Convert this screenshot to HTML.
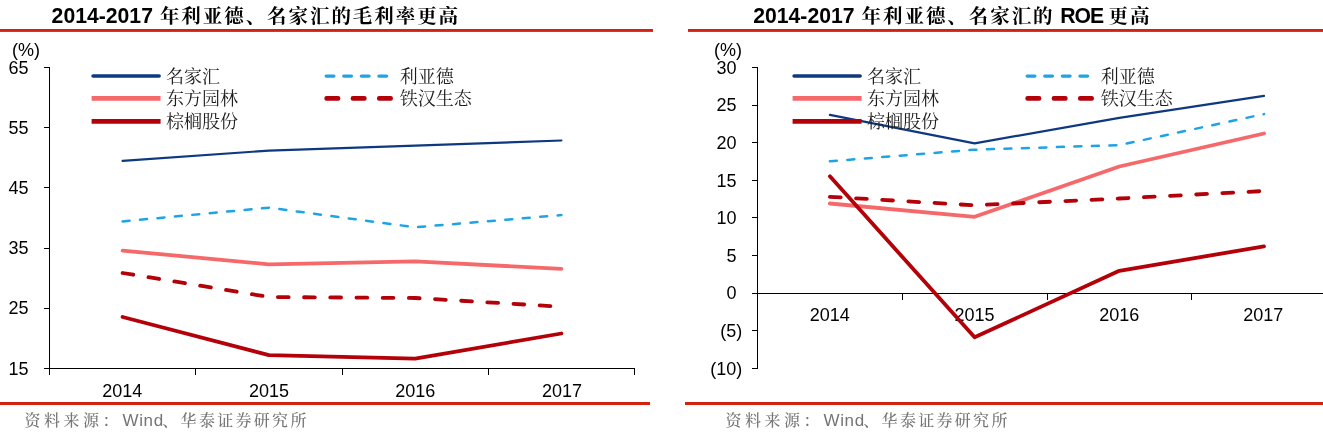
<!DOCTYPE html>
<html lang="zh-CN">
<head>
<meta charset="utf-8">
<title>2014-2017 年利亚德、名家汇的毛利率与 ROE</title>
<style>
html,body{margin:0;padding:0;background:#fff;}
body{width:1323px;height:437px;overflow:hidden;font-family:"Liberation Sans","Noto Sans CJK SC",sans-serif;}
svg{display:block;}
text{fill:#000;}
.tt{font-family:"Liberation Sans","Noto Serif CJK SC",serif;font-size:21px;font-weight:700;}
.tc{font-size:19.5px;letter-spacing:1.94px;font-weight:700;}
.tr{letter-spacing:-1.1px;}
.tb{font-size:21.2px;font-family:"Liberation Sans","Noto Sans CJK SC",sans-serif;font-weight:700;}
.ax{font-family:"Liberation Sans","Noto Sans CJK SC",sans-serif;font-size:18px;}
.lg{font-family:"Liberation Serif","Noto Serif CJK SC",serif;font-size:18px;fill:#1c1c1c;}
.src{font-family:"Liberation Sans","Noto Serif CJK SC",serif;font-size:16px;fill:#757575;font-weight:500;}
.s1{letter-spacing:3.5px;}
.s2{letter-spacing:2.3px;}
.sl{font-family:"Liberation Sans","Noto Sans CJK SC",sans-serif;font-size:17px;letter-spacing:0.6px;}
</style>
</head>
<body>
<svg width="1323" height="437" viewBox="0 0 1323 437">
<rect width="1323" height="437" fill="#fff"/>
<g fill="#d3220f"><rect x="0" y="29" width="653" height="2.9"/><rect x="688" y="29" width="635" height="2.9"/><rect x="0" y="402" width="650" height="3"/><rect x="685" y="402" width="638" height="3"/></g>
<text class="tt" y="22.6"><tspan class="tb" x="51.6">2014-2017</tspan><tspan class="tc" x="159.9">年利亚德、名家汇的毛利率更高</tspan></text>
<text class="tt" y="22.6"><tspan class="tb" x="753.2">2014-2017</tspan><tspan class="tc" x="861.6">年利亚德、名家汇的</tspan><tspan class="tb tr" x="1060.3">ROE</tspan><tspan class="tc" x="1108.6">更高</tspan></text>
<text class="ax" x="12" y="55.8">(%)</text>
<text class="ax" x="713.9" y="55.8">(%)</text>
<path d="M49.5 67.5V374.5 M43.5 67.50H49.5 M43.5 127.68H49.5 M43.5 187.86H49.5 M43.5 248.04H49.5 M43.5 308.22H49.5 M43.5 368.40H49.5 M49.5 368.5H634.5 M195.75 368.5V374.5 M342.00 368.5V374.5 M488.25 368.5V374.5 M634.50 368.5V374.5 M757.5 67.5V368.5 M751.5 67.50H757.5 M751.5 105.11H757.5 M751.5 142.72H757.5 M751.5 180.34H757.5 M751.5 217.95H757.5 M751.5 255.56H757.5 M751.5 293.17H757.5 M751.5 330.79H757.5 M751.5 368.40H757.5 M757.5 293.5H1323 M902.25 293.5V299.5 M1047.00 293.5V299.5 M1191.75 293.5V299.5" stroke="#000" stroke-width="1" fill="none" shape-rendering="crispEdges"/>
<text class="ax" text-anchor="end" x="28.6" y="73.7">65</text>
<text class="ax" text-anchor="end" x="28.6" y="133.9">55</text>
<text class="ax" text-anchor="end" x="28.6" y="194.1">45</text>
<text class="ax" text-anchor="end" x="28.6" y="254.2">35</text>
<text class="ax" text-anchor="end" x="28.6" y="314.4">25</text>
<text class="ax" text-anchor="end" x="28.6" y="374.6">15</text>
<text class="ax" text-anchor="end" x="736.5" y="73.7">30</text>
<text class="ax" text-anchor="end" x="736.5" y="111.3">25</text>
<text class="ax" text-anchor="end" x="736.5" y="148.9">20</text>
<text class="ax" text-anchor="end" x="736.5" y="186.5">15</text>
<text class="ax" text-anchor="end" x="736.5" y="224.1">10</text>
<text class="ax" text-anchor="end" x="736.5" y="261.8">5</text>
<text class="ax" text-anchor="end" x="736.5" y="299.4">0</text>
<text class="ax" text-anchor="end" x="742.2" y="337.0">(5)</text>
<text class="ax" text-anchor="end" x="742.2" y="374.6">(10)</text>
<text class="ax" text-anchor="middle" x="122.3" y="396.6">2014</text>
<text class="ax" text-anchor="middle" x="268.9" y="396.6">2015</text>
<text class="ax" text-anchor="middle" x="415.3" y="396.6">2016</text>
<text class="ax" text-anchor="middle" x="561.9" y="396.6">2017</text>
<text class="ax" text-anchor="middle" x="829.8" y="320.8">2014</text>
<text class="ax" text-anchor="middle" x="974.6" y="320.8">2015</text>
<text class="ax" text-anchor="middle" x="1119.3" y="320.8">2016</text>
<text class="ax" text-anchor="middle" x="1263.3" y="320.8">2017</text>
<g fill="none" stroke-linecap="round" stroke-linejoin="round">
<polyline points="122.6,160.8 268.9,150.6 415.1,145.6 561.4,140.5" stroke="#0e3880" stroke-width="2.2"/>
<polyline points="122.6,221.4 268.9,207.7 415.1,227.3 561.4,215.1" stroke="#1ea3e4" stroke-width="2.5" stroke-dasharray="7 10.5"/>
<polyline points="122.6,250.6 268.9,264.3 415.1,261.4 561.4,268.9" stroke="#f6696b" stroke-width="3.8"/>
<polyline points="122.6,273.0 268.9,297.0 415.1,298.0 561.4,306.7" stroke="#b40008" stroke-width="3.8" stroke-dasharray="10.8 15.4"/>
<polyline points="122.6,317.0 268.9,355.2 415.1,358.6 561.4,333.5" stroke="#b40008" stroke-width="3.8"/>

<polyline points="829.9,114.8 974.6,143.3 1119.3,117.9 1264.0,95.8" stroke="#0e3880" stroke-width="2.2"/>
<polyline points="829.9,161.3 974.6,149.7 1119.3,145.1 1264.0,114.1" stroke="#1ea3e4" stroke-width="2.5" stroke-dasharray="7 10.5"/>
<polyline points="829.9,203.5 974.6,216.8 1119.3,166.5 1264.0,133.5" stroke="#f6696b" stroke-width="3.8"/>
<polyline points="829.9,196.8 974.6,205.3 1119.3,198.5 1264.0,191.0" stroke="#b40008" stroke-width="3.8" stroke-dasharray="10.8 15.4"/>
<polyline points="829.9,176.3 974.6,337.3 1119.3,270.8 1264.0,246.4" stroke="#b40008" stroke-width="3.8"/>

<line x1="93.1" y1="76" x2="159.1" y2="76" stroke="#0e3880" stroke-width="3.6"/>
<line x1="91.6" y1="98.4" x2="160.6" y2="98.4" stroke="#f6696b" stroke-width="4.6" stroke-linecap="butt"/>
<line x1="91.6" y1="121.4" x2="160.6" y2="121.4" stroke="#b40008" stroke-width="4.6" stroke-linecap="butt"/>
<line x1="326.2" y1="76.1" x2="389" y2="76.1" stroke="#1ea3e4" stroke-width="3.4" stroke-dasharray="7.6 10"/>
<line x1="326.6" y1="98.4" x2="393" y2="98.4" stroke="#b40008" stroke-width="4.6" stroke-dasharray="11.5 14.8"/>
<text class="lg" x="166" y="82.5">名家汇</text>
<text class="lg" x="166" y="104.9">东方园林</text>
<text class="lg" x="166" y="127.7">棕榈股份</text>
<text class="lg" x="399.8" y="82.5">利亚德</text>
<text class="lg" x="399.8" y="104.9">铁汉生态</text>

<line x1="794.1" y1="76" x2="860.1" y2="76" stroke="#0e3880" stroke-width="3.6"/>
<line x1="792.6" y1="98.4" x2="861.6" y2="98.4" stroke="#f6696b" stroke-width="4.6" stroke-linecap="butt"/>
<line x1="792.6" y1="121.4" x2="861.6" y2="121.4" stroke="#b40008" stroke-width="4.6" stroke-linecap="butt"/>
<line x1="1027.2" y1="76.1" x2="1090" y2="76.1" stroke="#1ea3e4" stroke-width="3.4" stroke-dasharray="7.6 10"/>
<line x1="1027.6" y1="98.4" x2="1094" y2="98.4" stroke="#b40008" stroke-width="4.6" stroke-dasharray="11.5 14.8"/>
<text class="lg" x="867" y="82.5">名家汇</text>
<text class="lg" x="867" y="104.9">东方园林</text>
<text class="lg" x="867" y="127.7">棕榈股份</text>
<text class="lg" x="1100.8" y="82.5">利亚德</text>
<text class="lg" x="1100.8" y="104.9">铁汉生态</text>

</g>
<text class="src" y="426"><tspan x="24.4" class="s1">资料来源：</tspan><tspan class="sl" x="122.6">Wind</tspan><tspan x="162.3" class="s2">、华泰证券研究所</tspan></text>
<text class="src" y="426"><tspan x="725.4" class="s1">资料来源：</tspan><tspan class="sl" x="823.6">Wind</tspan><tspan x="863.3" class="s2">、华泰证券研究所</tspan></text>
</svg>
</body>
</html>
